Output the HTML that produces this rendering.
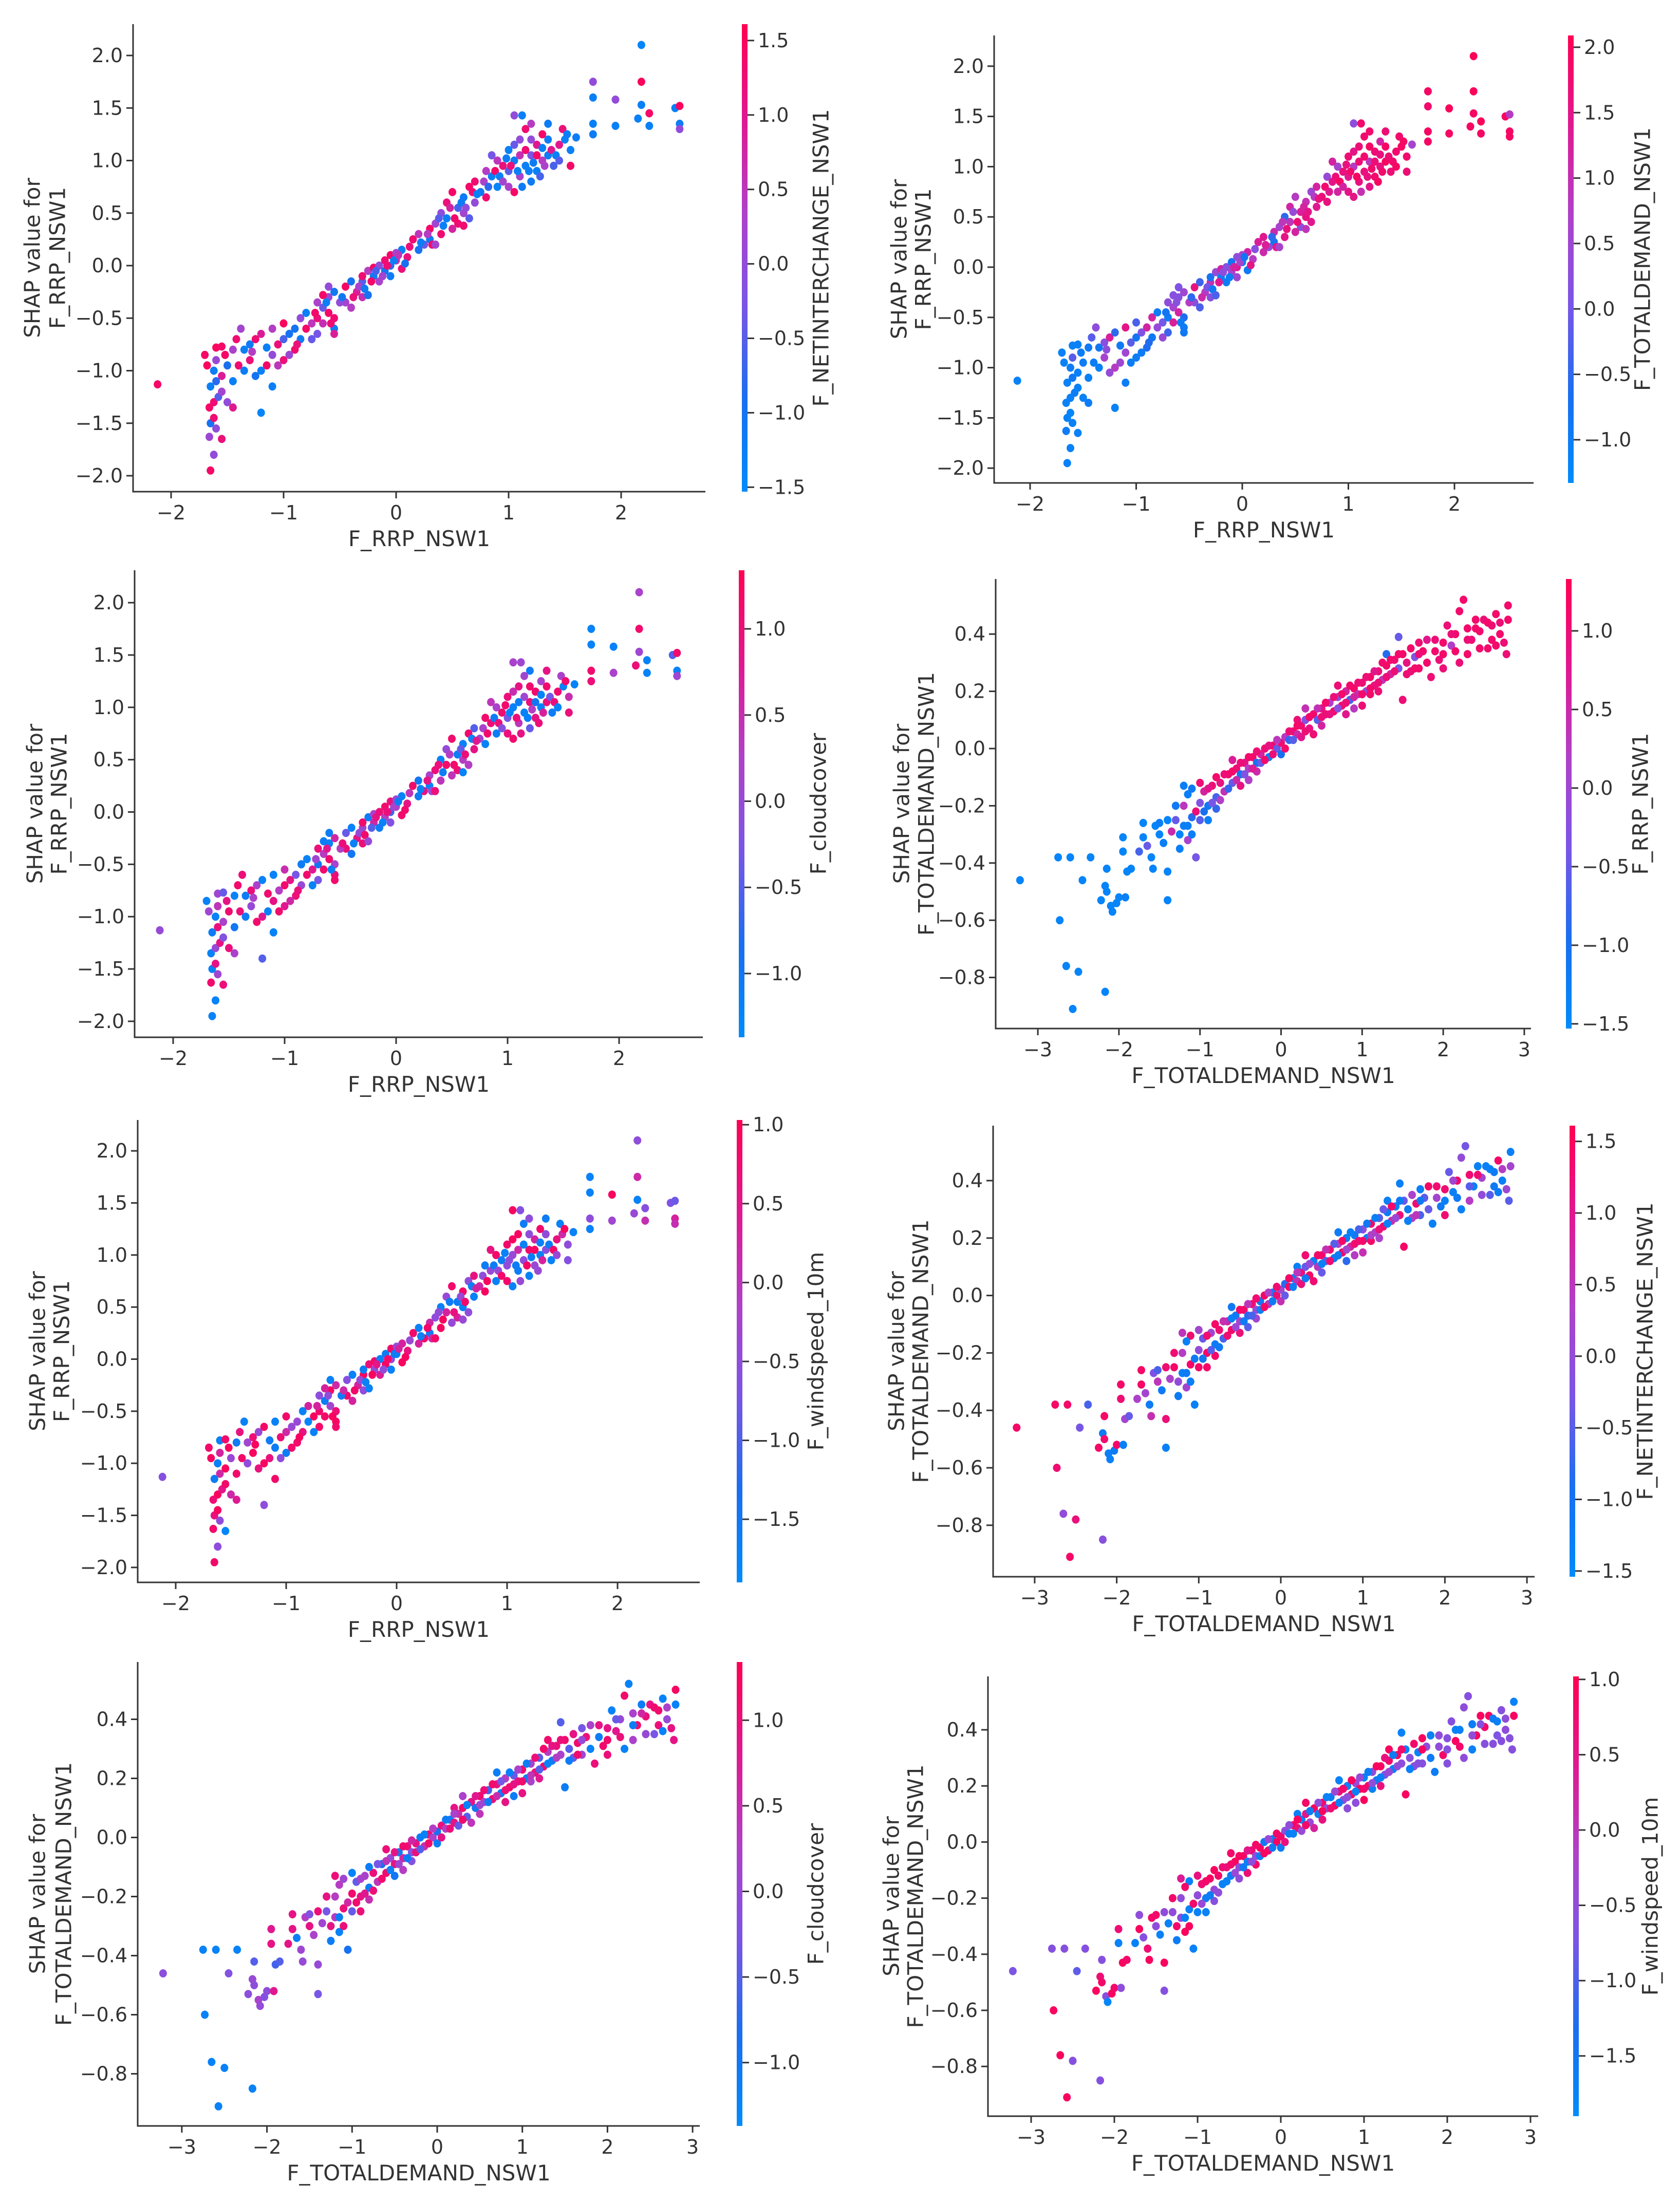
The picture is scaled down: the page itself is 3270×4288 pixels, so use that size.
<!DOCTYPE html>
<html><head><meta charset="utf-8"><style>
html,body{margin:0;padding:0;background:#fff}
svg{display:block}
text{font-family:"DejaVu Sans","Liberation Sans",sans-serif;fill:#333}
</style></head><body>
<svg id="fig" xmlns="http://www.w3.org/2000/svg" width="3270" height="4288" viewBox="0 0 3270 4288">
<defs>
<linearGradient id="cmap" x1="0" y1="1" x2="0" y2="0">
<stop offset="0" stop-color="#008bfb"/><stop offset="0.2" stop-color="#1a6ef0"/><stop offset="0.4" stop-color="#7a55e6"/><stop offset="0.6" stop-color="#b040c8"/><stop offset="0.8" stop-color="#e01890"/><stop offset="1" stop-color="#ff0052"/>
</linearGradient>
</defs>
</svg>
<script>
// RRP feature values and SHAP values
const rrpPoints = [
[-2.12,-1.13],[-1.65,-1.95],[-1.62,-1.8],[-1.66,-1.63],[-1.55,-1.65],[-1.65,-1.5],[-1.62,-1.45],[-1.6,-1.55],[-1.66,-1.35],[-1.62,-1.3],
[-1.58,-1.25],[-1.55,-1.2],[-1.65,-1.15],[-1.6,-1.1],[-1.55,-1.05],[-1.62,-1.0],[-1.68,-0.95],[-1.7,-0.85],[-1.6,-0.9],[-1.5,-0.95],
[-1.45,-1.1],[-1.5,-1.3],[-1.45,-1.35],[-1.52,-0.85],[-1.45,-0.8],[-1.6,-0.78],[-1.55,-0.77],[-1.42,-0.7],[-1.38,-0.6],[-1.35,-0.8],
[-1.3,-0.9],[-1.3,-0.75],[-1.25,-0.7],[-1.2,-0.65],[-1.25,-1.05],[-1.2,-1.0],[-1.2,-1.4],[-1.1,-1.15],[-1.1,-0.85],[-1.05,-0.75],
[-1.0,-0.7],[-1.1,-0.6],[-1.0,-0.55],[-0.95,-0.65],[-0.9,-0.8],[-0.85,-0.5],[-0.85,-0.7],[-0.8,-0.6],[-0.8,-0.45],[-0.75,-0.55],
[-0.7,-0.35],[-0.7,-0.5],[-0.65,-0.4],[-0.6,-0.3],[-0.6,-0.45],[-0.55,-0.6],[-0.55,-0.5],[-0.55,-0.65],[-0.6,-0.2],[-0.55,-0.25],
[-0.45,-0.2],[-0.45,-0.35],[-0.4,-0.15],[-0.35,-0.25],[-0.3,-0.15],[-0.3,-0.1],[-0.25,-0.05],[-0.2,-0.1],[-0.2,-0.02],[-0.15,0.0],
[-0.15,-0.15],[-0.1,-0.05],[-0.1,0.05],[-0.05,0.0],[-0.05,0.1],[0.0,0.05],[0.05,0.15],[0.05,-0.03],[0.0,0.12],[0.15,0.25],
[0.2,0.3],[0.25,0.2],[0.3,0.35],[0.3,0.25],[0.35,0.4],[0.4,0.3],[0.4,0.5],[0.45,0.45],[0.45,0.6],[0.5,0.7],
[0.55,0.55],[0.55,0.4],[0.6,0.5],[0.6,0.65],[0.65,0.75],[0.7,0.6],[0.7,0.8],[0.75,0.7],[0.8,0.9],[0.8,0.65],
[0.85,0.85],[0.9,0.75],[0.9,1.0],[0.95,0.95],[1.0,0.9],[1.0,1.1],[1.05,0.7],[1.05,1.0],[1.1,1.2],[1.1,0.85],
[1.15,0.95],[1.15,1.3],[1.2,1.05],[1.2,0.8],[1.25,1.15],[1.25,0.9],[1.3,1.0],[1.3,1.25],[1.35,1.05],[1.4,0.95],
[1.45,1.15],[1.5,1.2],[1.55,1.1],[1.55,0.95],[1.6,1.22],[1.05,1.43],[1.12,1.43],[1.75,1.75],[1.75,1.6],[1.75,1.35],
[1.75,1.25],[1.95,1.58],[1.95,1.33],[2.15,1.4],[2.18,2.1],[2.18,1.75],[2.18,1.53],[2.25,1.33],[2.25,1.45],[2.48,1.5],
[2.52,1.52],[2.52,1.35],[2.52,1.3],[-0.3,-0.3],[-0.7,-0.65],[-1.0,-0.9],[0.2,0.15],[0.5,0.35],[1.0,0.75],[-0.05,-0.1],
[0.1,0.08],[-0.4,-0.4],[0.65,0.45],
[-1.4,-0.95],[-1.35,-1.0],[-1.28,-0.82],[-1.15,-0.78],[-1.15,-0.95],[-0.95,-0.85],[-0.9,-0.6],[-0.88,-0.75],[-0.75,-0.7],[-0.72,-0.45],
[-0.65,-0.55],[-0.62,-0.35],[-0.58,-0.55],[-0.5,-0.35],[-0.48,-0.3],[-0.38,-0.3],[-0.33,-0.2],[-0.28,-0.22],[-0.22,-0.15],[-0.18,-0.05],
[-0.12,-0.1],[-0.08,0.0],[-0.02,0.05],[0.02,0.1],[0.08,0.02],[0.12,0.18],[0.22,0.22],[0.28,0.3],[0.32,0.2],[0.38,0.45],
[0.42,0.38],[0.48,0.55],[0.52,0.45],[0.58,0.6],[0.62,0.55],[0.68,0.7],[0.72,0.68],[0.78,0.8],[0.82,0.75],[0.88,0.9],
[0.92,0.85],[0.95,0.8],[0.98,1.02],[1.02,0.95],[1.05,1.15],[1.08,0.9],[1.1,1.05],[1.12,0.75],[1.15,1.1],[1.18,0.9],
[1.2,1.2],[1.22,0.98],[1.25,1.05],[1.28,0.85],[1.3,1.12],[1.32,0.95],[1.35,1.2],[1.38,1.1],[1.42,1.05],[1.45,1.0],
[1.48,1.3],[1.52,1.25],[1.2,1.35],[1.35,1.35],[0.85,1.05],[0.6,0.38],[0.35,0.2],[-0.25,-0.28],[-0.65,-0.28],[-1.05,-0.95]
];
// TOTALDEMAND feature values and SHAP values
const tdPoints = [
[-3.22,-0.46],[-2.75,-0.38],[-2.6,-0.38],[-2.35,-0.38],[-2.45,-0.46],[-2.73,-0.6],[-2.65,-0.76],[-2.5,-0.78],[-2.17,-0.85],[-2.57,-0.91],
[-2.15,-0.42],[-2.17,-0.48],[-2.15,-0.5],[-2.22,-0.53],[-2.1,-0.55],[-2.08,-0.57],[-2.03,-0.54],[-2.0,-0.52],[-1.92,-0.52],[-1.4,-0.53],
[-1.95,-0.36],[-1.95,-0.31],[-1.9,-0.43],[-1.85,-0.42],[-1.75,-0.36],[-1.7,-0.26],[-1.65,-0.34],[-1.6,-0.38],[-1.58,-0.42],[-1.55,-0.27],
[-1.5,-0.3],[-1.45,-0.33],[-1.4,-0.43],[-1.35,-0.29],[-1.3,-0.25],[-1.25,-0.3],[-1.2,-0.27],[-1.15,-0.32],[-1.1,-0.24],[-1.05,-0.38],
[-1.05,-0.22],[-1.1,-0.14],[-1.0,-0.19],[-0.95,-0.15],[-0.9,-0.2],[-0.85,-0.13],[-0.8,-0.17],[-0.75,-0.12],[-0.7,-0.15],[-0.65,-0.09],
[-0.6,-0.12],[-0.55,-0.07],[-0.5,-0.09],[-0.45,-0.05],[-0.4,-0.07],[-0.35,-0.03],[-0.3,-0.05],[-0.25,-0.02],[-0.2,0.0],[-0.15,-0.03],
[-0.1,0.01],[-0.05,0.0],[0.0,0.02],[0.05,0.04],[0.1,0.03],[0.15,0.06],[0.2,0.05],[0.25,0.08],[0.3,0.1],[0.35,0.07],
[0.4,0.12],[0.45,0.1],[0.5,0.14],[0.55,0.12],[0.6,0.16],[0.65,0.13],[0.7,0.18],[0.75,0.15],[0.8,0.2],[0.85,0.17],
[0.9,0.21],[0.95,0.19],[1.0,0.23],[1.05,0.2],[1.1,0.25],[1.15,0.22],[1.2,0.27],[1.25,0.24],[1.3,0.29],[1.35,0.26],
[1.4,0.31],[1.45,0.28],[1.5,0.33],[1.5,0.17],[1.55,0.3],[1.6,0.35],[1.65,0.32],[1.7,0.37],[1.75,0.34],[1.8,0.38],
[1.85,0.25],[1.9,0.34],[1.95,0.31],[2.0,0.37],[2.05,0.43],[2.1,0.36],[2.15,0.4],[2.2,0.48],[2.2,0.3],[2.25,0.52],
[2.3,0.42],[2.35,0.38],[2.4,0.45],[2.45,0.41],[2.5,0.45],[2.55,0.35],[2.6,0.43],[2.65,0.47],[2.7,0.4],[2.75,0.37],
[2.8,0.5],[2.8,0.45],[2.78,0.33],[2.3,0.33],[2.0,0.28],[1.45,0.39],[1.0,0.15],[0.5,0.08],[-0.5,-0.13],[-1.15,-0.16],
[-1.2,-0.13],[0.3,0.14],[0.7,0.22],[1.2,0.2],[1.7,0.28],[2.6,0.38],[-0.8,-0.21],[-0.3,-0.08],[0.2,0.1],[0.9,0.14],
[2.45,0.35],[-0.6,-0.04],[0.0,-0.02],[0.4,0.05],[0.8,0.12],[1.1,0.19],[1.3,0.33],[1.6,0.27],[-0.9,-0.25],[-0.4,-0.11],
[-1.3,-0.2],[-1.25,-0.35],[-1.2,-0.2],[-1.1,-0.3],[-1.0,-0.25],[-1.0,-0.12],[-0.95,-0.22],[-0.9,-0.14],[-0.85,-0.19],[-0.8,-0.1],
[-0.75,-0.18],[-0.7,-0.09],[-0.65,-0.14],[-0.6,-0.08],[-0.55,-0.11],[-0.5,-0.05],[-0.45,-0.09],[-0.4,-0.03],[-0.35,-0.07],[-0.3,-0.01],
[-0.25,-0.05],[-0.2,-0.04],[-0.15,0.01],[-0.1,-0.02],[-0.05,0.03],[0.05,0.0],[0.1,0.06],[0.15,0.03],[0.2,0.08],[0.25,0.04],
[0.3,0.06],[0.35,0.11],[0.45,0.14],[0.5,0.11],[0.55,0.16],[0.6,0.12],[0.65,0.18],[0.7,0.14],[0.75,0.19],[0.8,0.16],
[0.85,0.22],[0.9,0.18],[0.95,0.23],[1.0,0.19],[1.05,0.25],[1.1,0.21],[1.15,0.27],[1.2,0.23],[1.25,0.3],[1.3,0.25],
[1.35,0.31],[1.4,0.27],[1.45,0.33],[1.55,0.26],[1.65,0.28],[1.7,0.33],[1.8,0.3],[1.9,0.38],[2.0,0.33],[2.1,0.4],
[2.15,0.34],[2.3,0.38],[2.4,0.42],[2.55,0.44],[2.7,0.44],[2.65,0.36],[-1.7,-0.31],[-1.5,-0.26],[-1.4,-0.25],[-1.15,-0.27]
];
// interaction feature values (colour) per panel
const colNetRrp = [1.4,1.4,0.0,0.1,1.2,-1.0,1.3,0.0,1.4,1.3,-0.5,0.2,-1.3,-0.8,0.9,-1.2,1.5,1.4,0.1,-0.9,-1.3,0.0,1.0,1.4,0.3,1.5,1.4,1.3,0.2,-1.3,1.2,-1.2,1.3,0.9,-1.0,-1.3,-1.4,-1.3,0.0,1.2,-0.6,0.4,1.5,-1.0,1.3,0.0,-1.2,1.4,-1.3,0.5,0.3,1.2,-0.4,0.1,1.4,-1.2,1.3,0.9,0.0,-1.1,1.4,0.2,-1.0,0.9,-0.5,1.3,0.4,-1.2,1.4,0.0,0.3,-1.0,1.3,-0.8,1.4,0.6,-1.3,1.2,0.2,1.3,0.5,-0.4,1.4,-1.2,0.2,1.3,0.0,-1.3,1.2,1.4,-0.6,1.3,0.2,-1.2,1.4,0.0,1.3,-1.1,0.4,1.3,-1.3,-1.4,0.5,1.2,-0.5,-1.3,1.4,-1.2,0.0,0.3,-1.3,1.3,-0.3,-1.2,1.0,-1.3,0.4,1.4,-1.2,-0.6,1.0,-1.3,-1.3,1.4,-1.2,0.0,-1.3,0.0,-1.3,-1.3,-1.2,0.0,-1.3,-1.3,-1.4,1.5,-1.3,-1.3,1.4,-1.3,1.5,-1.2,0.0,0.6,-0.3,1.2,-1.0,0.8,0.3,-1.2,1.2,0.4,-0.5,
1.3,-1.2,0.4,-1.3,1.4,0.1,-1.0,1.2,-0.4,1.4,0.6,-1.3,1.3,0.0,-1.1,1.2,0.3,-1.2,1.4,-0.6,0.2,1.3,-1.3,0.5,-0.9,1.2,-1.2,0.4,1.3,-0.5,-1.3,0.8,1.4,-1.2,0.0,1.3,-1.3,0.3,-0.8,1.4,-1.3,0.2,-1.2,1.2,-0.4,-1.3,0.6,-1.2,1.3,-1.3,0.0,-1.2,1.4,-0.6,-1.3,0.3,-1.2,1.0,-1.3,-0.5,1.2,-1.3,0.4,-1.2,-0.3,1.3,0.2,-1.0,1.4,0.5];
const colTdRrp = [-1.1,-1.1,-1.1,-1.0,-1.1,-1.1,-1.2,-1.1,-1.1,-1.1,-1.0,-1.1,-1.1,-0.9,-1.1,-1.0,-1.1,-1.1,-0.2,-1.0,-1.1,-1.1,-1.0,-1.0,-0.9,-1.1,-1.1,-0.2,0.3,-0.8,0.6,0.2,1.3,-0.5,0.4,0.8,-1.1,-1.0,0.5,-0.2,-0.8,1.5,-0.3,0.1,-0.6,1.2,-0.9,0.4,-1.0,0.0,0.3,-1.0,0.6,0.2,1.2,-1.0,-0.6,-0.9,0.1,0.5,1.6,0.2,-0.4,0.8,1.0,-0.8,0.4,-1.0,1.2,0.2,-1.0,0.6,-0.8,1.4,0.3,-1.0,1.2,-0.9,0.5,1.3,1.4,0.4,1.1,-0.8,0.6,1.5,-0.5,0.9,1.2,0.8,1.3,0.2,1.6,1.0,0.5,1.4,1.2,1.7,0.4,1.6,1.5,1.2,0.6,1.6,1.4,1.7,1.5,0.8,1.7,1.6,1.6,1.8,0.9,1.5,1.7,1.8,1.6,1.2,1.9,1.7,1.8,1.9,1.8,1.7,0.6,0.3,1.8,1.9,1.8,1.9,1.9,2.0,1.9,1.9,2.0,2.0,1.9,1.9,2.0,1.9,0.8,1.9,1.9,0.2,-0.4,-1.0,1.1,1.2,1.5,0.5,0.8,-0.3,1.4,
-1.0,-1.1,0.3,-0.9,0.5,-1.0,1.2,-0.6,0.4,-0.8,1.3,0.2,-1.0,0.8,-0.5,1.1,0.0,-0.9,1.4,0.3,-1.0,1.2,0.6,-0.8,1.5,0.2,1.3,-0.5,1.4,0.9,1.6,0.4,1.7,1.2,1.5,0.8,1.6,1.8,1.4,1.7,1.9,1.2,1.6,1.8,1.5,1.9,1.7,1.0,1.8,1.6,1.9,1.8,1.7,1.9,1.6,1.8,1.9,1.7,1.8,1.9,1.8,1.9,1.8,1.7,1.2,0.9,0.6,-0.3,0.2,-1.0];
const colCloudRrp = [0.0,-1.2,-1.2,1.1,1.0,-1.2,0.9,0.1,-1.2,0.0,0.9,-0.2,-1.1,1.0,0.2,-1.2,0.1,-1.2,0.4,1.1,-1.0,1.0,0.2,0.9,-1.2,0.1,-0.4,1.1,1.0,-1.1,0.0,1.0,0.2,-1.2,1.1,0.8,-0.5,-1.2,0.9,0.3,1.1,-1.2,0.5,0.9,1.0,-1.1,0.0,1.1,-1.2,0.8,1.0,-1.0,0.3,-1.2,1.1,1.0,0.2,1.1,-1.1,0.6,-0.4,1.0,-1.2,0.9,0.1,1.1,-1.1,0.6,0.2,1.0,-1.1,0.3,1.1,-0.6,1.0,0.2,-1.2,1.1,0.0,1.1,-1.0,0.9,0.2,-1.2,1.0,0.4,-1.2,1.1,0.0,1.1,-1.1,1.0,0.3,-1.2,1.1,0.9,-0.5,0.1,1.1,-1.2,1.0,-1.1,0.2,1.1,-0.3,1.0,1.1,-1.2,0.9,0.4,-1.2,0.1,1.0,-0.4,1.1,0.9,-1.2,0.2,1.0,-1.1,1.1,-1.2,0.5,1.0,-1.2,0.2,0.1,-1.2,-1.2,1.1,1.0,-1.2,0.2,1.0,0.2,1.1,0.1,-1.2,-1.2,-0.5,1.1,-1.2,0.1,1.0,-0.3,0.8,-1.1,0.4,1.0,-0.2,0.9,-1.0,0.3,
1.0,-1.1,0.2,1.1,-1.2,0.6,-0.3,1.0,-1.2,0.1,1.1,0.8,-1.1,0.3,1.0,-1.2,0.0,1.1,-0.5,0.9,-1.2,1.0,0.2,-1.1,1.1,0.4,-1.2,0.9,0.1,1.0,-1.1,0.3,1.1,-0.4,1.0,-1.2,0.8,0.2,1.1,-1.1,1.0,-0.2,1.1,-1.2,0.5,1.0,-1.1,0.9,0.1,-1.2,1.1,0.3,-1.0,1.0,-1.2,0.7,1.1,-0.3,1.0,-1.2,0.2,1.1,-1.1,0.9,0.4,-1.2,1.0,0.0,-1.1,1.1];
const colWindRrp = [-0.6,0.8,-0.5,0.8,-1.8,0.6,0.9,-0.5,0.7,0.9,0.5,0.8,-1.6,0.2,0.9,-1.7,0.9,0.8,0.3,-0.4,0.8,0.2,0.4,0.9,-1.6,-1.7,0.8,0.6,-1.7,-0.3,0.9,0.7,-0.4,0.8,0.6,0.9,-0.5,0.8,-1.6,0.7,0.2,-1.7,0.8,-0.4,0.8,-1.7,0.6,-1.8,0.3,0.9,-0.5,0.8,-1.6,0.9,-0.3,0.9,0.7,0.8,-1.7,0.2,-0.6,0.8,-1.7,0.3,0.9,-1.6,0.7,-0.5,0.8,-1.7,0.4,0.9,-1.6,-0.4,0.8,-1.7,0.3,0.9,-0.5,0.8,-1.7,0.8,0.2,-1.6,-0.5,0.9,-1.7,0.3,-0.4,0.8,-1.6,0.3,-1.7,0.8,-0.5,-1.7,0.6,0.2,-1.6,0.9,-0.4,-1.7,0.8,-1.6,-0.5,0.8,-1.7,-0.4,0.9,-1.6,-0.5,-1.6,0.8,-1.7,0.3,-0.4,-1.7,0.8,-0.6,-1.7,0.6,0.2,-0.5,-0.6,-1.7,0.9,-0.6,-1.7,-1.7,-0.5,-1.7,0.9,-0.3,-0.4,-0.5,0.2,-1.7,0.1,-0.6,-0.7,-0.8,0.3,0.1,-0.5,0.8,-1.6,0.3,-0.4,0.8,-1.7,0.6,0.3,-0.5,
0.8,-0.5,0.9,-1.6,0.6,0.8,-0.4,0.9,-1.7,0.3,0.8,-0.5,0.9,-1.6,0.2,0.8,-0.4,-1.7,0.9,0.5,-0.5,0.8,-1.6,0.3,0.9,-0.4,-1.7,0.8,0.2,-0.5,0.9,-1.6,0.6,-0.4,0.8,-1.7,0.3,-0.5,0.9,-1.6,-0.4,0.8,-1.7,-0.5,0.9,-1.6,0.2,-0.4,-1.7,0.8,-0.5,-1.6,0.9,-0.4,-1.7,0.3,-0.5,-1.6,0.8,-0.4,-1.7,0.9,-0.5,-1.6,0.6,-0.4,0.8,-1.7,0.3,-0.5];
const colRrpTd = [-1.4,-1.4,-1.4,-1.4,-1.4,-1.4,-1.4,-1.4,-1.4,-1.4,-1.4,-1.4,-1.4,-1.4,-1.4,-1.4,-1.4,-1.4,-1.3,-1.4,-1.4,-1.4,-1.4,-1.4,-0.7,-1.4,-0.5,-1.4,-1.4,-1.4,-1.4,-1.3,-1.4,0.5,-0.5,-1.4,-1.3,0.1,-0.9,-0.4,1.0,-1.2,-0.3,0.6,-1.2,1.0,-0.7,0.9,0.4,1.1,-0.5,1.0,-1.1,0.8,0.2,1.1,-1.0,0.6,1.0,-1.3,1.1,-0.5,1.0,0.3,-0.8,1.1,0.5,1.0,-0.3,0.9,1.1,-0.6,0.9,1.0,0.2,1.1,-0.2,1.0,0.6,-0.7,1.1,0.4,1.0,-0.2,1.1,0.9,1.0,0.3,1.1,0.6,1.0,-0.4,1.1,1.0,0.9,1.1,-0.3,1.0,1.1,0.8,1.0,1.1,1.0,1.1,1.0,0.2,1.1,1.1,1.0,1.1,1.1,1.0,1.1,1.1,1.0,1.1,1.0,1.1,1.1,1.0,1.1,1.1,1.0,1.1,1.0,-0.5,1.0,0.6,0.9,-1.3,-1.3,0.4,1.0,1.0,1.1,1.1,-0.8,0.5,1.0,0.3,1.1,0.7,-1.0,1.0,0.8,1.1,-0.9,1.0,-1.3,0.2,
-1.2,-1.3,0.3,-1.3,-0.6,1.0,-1.0,0.8,-0.4,1.1,0.2,1.0,-0.8,1.1,0.5,1.0,-0.3,1.1,0.7,1.0,-0.5,1.1,0.9,1.0,0.3,1.1,1.0,-0.6,1.1,0.8,1.0,1.1,0.4,1.0,1.1,0.9,1.0,-0.2,1.1,1.0,1.1,0.6,1.0,1.1,1.0,1.1,0.8,1.0,1.1,1.0,1.1,1.0,1.1,1.0,1.1,1.0,1.1,1.0,1.1,1.0,1.1,1.0,1.1,1.1,1.0,1.1,-1.4,-1.3,-1.4,-1.3];
const colNetTd = [1.4,1.4,1.4,-0.6,-0.3,1.3,0.0,1.2,-0.1,1.4,1.4,-1.2,1.3,1.4,-1.3,-1.3,-1.2,1.4,-1.3,-1.3,1.3,1.4,0.2,-0.4,0.3,1.4,0.2,-1.2,0.6,-0.2,0.5,-1.2,1.2,0.3,1.4,0.0,-1.3,0.2,1.4,-1.3,-1.2,1.3,0.0,-0.4,1.4,0.2,-1.2,1.3,-0.6,0.8,1.4,-1.2,0.3,1.4,-0.8,1.3,0.1,-1.1,1.4,0.5,-1.2,1.3,0.2,-0.8,1.4,-1.3,0.6,1.2,-0.4,1.4,-1.3,0.5,1.4,-0.6,1.3,-1.2,0.3,1.4,-1.3,0.8,-1.2,1.3,0.0,-1.3,1.4,0.4,-0.5,1.3,-1.2,0.6,-1.3,1.2,-0.4,1.4,-1.2,0.3,1.3,-1.3,-0.5,1.4,-1.3,0.2,-1.2,1.3,-0.4,-1.3,1.4,0.0,-1.3,-0.3,1.3,-1.3,-1.3,0.2,-1.3,-0.5,-1.2,1.4,-1.3,0.1,-1.3,0.2,-0.5,0.4,1.3,-1.3,0.6,-0.4,1.2,-1.3,0.5,1.3,-1.2,0.3,-0.6,-1.2,1.4,0.2,-1.3,0.4,0.0,-1.2,0.6,1.3,-0.8,1.4,-1.3,0.3,1.4,-0.5,
1.3,-1.2,0.4,-1.3,1.4,0.2,-1.1,1.3,-0.5,1.4,-1.2,0.6,1.3,-1.3,0.1,1.4,-1.2,0.5,-0.6,1.3,-1.3,1.4,0.3,-1.2,1.3,-0.4,1.4,-1.3,0.5,1.2,-1.2,0.0,1.4,-1.3,0.6,1.3,-0.5,-1.2,1.4,0.2,-1.3,1.3,-0.6,1.4,-1.2,0.3,-1.3,1.2,-0.4,-1.3,1.4,0.1,-1.2,-1.3,0.5,-1.2,-0.4,1.3,-1.3,0.2,-1.2,-0.5,1.3,-1.3,0.4,-1.2,1.4,-0.6,1.3,-1.2];
const colCloudTd = [-0.1,-1.2,-1.2,-1.2,-0.2,-1.2,-1.2,-1.2,-1.2,-1.2,-0.5,0.0,-0.1,-0.1,0.2,0.0,-0.2,-0.1,0.8,-0.3,0.9,0.8,-0.6,-0.5,0.9,0.9,-1.1,0.1,0.0,0.3,0.9,0.2,0.0,0.1,-0.3,0.9,0.3,-1.2,1.0,-0.9,0.6,0.1,1.1,-0.4,0.9,0.2,-1.1,1.0,0.4,-0.8,1.1,0.0,0.9,-1.1,0.6,1.0,-0.2,0.9,-1.1,0.5,1.1,0.2,-0.9,1.0,0.3,-1.1,0.9,0.5,1.1,-0.5,0.9,-1.0,1.1,0.2,-0.6,1.0,0.9,-1.1,0.3,1.1,-0.4,0.9,1.1,-1.1,0.2,1.0,-0.5,1.1,0.3,-1.1,1.0,0.2,1.1,-1.1,-0.5,0.9,1.1,-0.3,1.0,0.2,1.0,-1.1,1.1,0.9,-1.2,0.8,0.0,1.1,-1.2,-1.2,0.2,1.1,-1.1,1.0,0.9,-0.3,1.1,-1.2,0.0,0.9,1.2,-1.2,0.9,0.2,1.0,-0.5,0.9,0.4,-1.0,0.3,1.0,0.2,-1.1,0.8,0.1,1.0,0.5,-0.2,0.9,-1.1,0.0,1.0,-1.1,0.4,0.9,0.2,1.1,-0.4,1.0,0.3,
0.9,-1.1,0.3,1.0,-0.4,-1.2,1.1,0.2,0.8,-1.1,1.0,-0.3,1.1,0.4,-1.2,0.9,0.1,1.1,-1.1,0.6,1.0,-0.5,-1.2,1.1,0.3,0.9,-1.1,1.0,0.2,-0.4,1.1,-1.2,0.8,0.1,1.0,-1.1,1.1,0.5,-0.3,1.0,-1.2,0.9,0.2,1.1,-1.1,0.4,1.0,-0.5,1.1,-1.2,0.9,0.3,1.0,-1.1,1.1,0.0,-1.2,0.9,1.1,-0.4,1.0,-1.1,0.6,1.1,0.2,-1.2,0.9,-0.2,1.0,-1.1];
const colWindTd = [-0.7,-0.6,-0.6,-0.6,-0.9,0.9,0.9,-0.6,-0.6,0.9,-0.6,0.7,0.8,0.9,-0.6,-1.8,0.9,0.8,-0.5,-0.6,-1.7,0.7,0.9,0.8,-1.7,-0.5,-0.6,0.7,0.9,0.8,-0.5,-1.7,0.9,-1.7,-0.5,0.8,-0.6,0.9,-1.7,-1.7,0.8,-1.7,-0.5,0.7,-1.6,0.9,-0.4,0.8,-1.7,0.6,-1.6,0.9,-0.5,0.8,-1.7,0.7,-0.5,0.9,-1.6,0.8,-1.7,0.9,0.8,-0.5,-1.6,0.9,0.7,-1.7,0.5,-0.4,0.9,-1.7,0.8,-0.5,-1.6,0.9,0.7,-0.5,-1.7,0.8,-0.4,0.9,-1.7,0.8,-0.5,-1.6,0.9,-0.6,0.8,-1.7,0.9,-0.5,-1.7,0.9,-0.6,0.8,-1.7,0.9,-0.5,-1.7,-1.6,-0.5,0.8,-0.6,-0.6,0.9,-1.7,-0.5,-0.5,-0.6,-1.6,0.9,0.9,0.8,0.9,-0.6,-1.7,-0.6,-0.5,-0.6,-1.7,0.9,-0.6,-1.7,-0.6,-1.7,0.9,0.6,-0.5,0.8,0.4,0.8,-1.7,0.6,-0.6,-0.7,-0.6,0.8,-1.7,-0.5,-0.6,0.8,-1.6,0.3,-0.5,-1.7,0.9,-0.6,-1.7,0.7,
0.8,-1.6,-0.5,0.9,-1.7,0.6,-0.4,0.8,-1.6,0.9,-0.5,0.7,-1.7,0.8,-0.4,0.9,-1.6,0.5,-0.5,0.8,-1.7,0.9,-0.4,-1.6,0.8,0.6,-0.5,-1.7,0.9,-0.4,0.8,-1.6,-0.5,0.9,-1.7,0.7,-0.4,-1.6,0.8,-0.5,0.9,-1.7,-0.4,0.8,-1.6,-0.5,0.9,-1.7,0.6,-0.4,-1.6,-0.5,0.8,-1.7,-0.6,0.9,-1.6,-0.5,-0.6,-1.7,0.8,-0.5,-0.6,-1.6,-0.5,-0.6,0.9,0.8,-0.5,-1.7];
// axis tick labels
const rrpXTicks = [-2,-1,0,1,2];
const rrpYTicks = [-2.0,-1.5,-1.0,-0.5,0.0,0.5,1.0,1.5,2.0];
const tdXTicks = [-3,-2,-1,0,1,2,3];
const tdYTicks = [-0.8,-0.6,-0.4,-0.2,0.0,0.2,0.4];
const cbTicksA = [-1.5,-1.0,-0.5,0.0,0.5,1.0,1.5];
const cbTicksB = [-1.0,-0.5,0.0,0.5,1.0,1.5,2.0];
const cbTicksC = [-1.0,-0.5,0.0,0.5,1.0];
const cbTicksD = [-1.5,-1.0,-0.5,0.0,0.5,1.0];

const panels = [
 {id:'rrp-netinterchange',pts:rrpPoints,col:colNetRrp,xt:rrpXTicks,yt:rrpYTicks,axL:259,axR:1373,axT:47,axB:957,x0:771,xs:219,y0:517,ys:204.5,cbx:1444,cbLo:-1.53,cbHi:1.61,cbt:cbTicksA,yl1:63,yl2:112,cbl:1598,xl:'F_RRP_NSW1',yl:'F_RRP_NSW1',cl:'F_NETINTERCHANGE_NSW1'},
 {id:'rrp-totaldemand',pts:rrpPoints,col:colTdRrp,xt:rrpXTicks,yt:rrpYTicks,axL:1935,axR:2985,axT:69,axB:940,x0:2418,xs:206.5,y0:520,ys:195.6,cbx:3052,cbLo:-1.33,cbHi:2.09,cbt:cbTicksB,yl1:1750,yl2:1797,cbl:3197,xl:'F_RRP_NSW1',yl:'F_RRP_NSW1',cl:'F_TOTALDEMAND_NSW1'},
 {id:'rrp-cloudcover',pts:rrpPoints,col:colCloudRrp,xt:rrpXTicks,yt:rrpYTicks,axL:262,axR:1368,axT:1110,axB:2019,x0:771,xs:217,y0:1580.5,ys:203.7,cbx:1438,cbLo:-1.37,cbHi:1.34,cbt:cbTicksC,yl1:68,yl2:115,cbl:1593,xl:'F_RRP_NSW1',yl:'F_RRP_NSW1',cl:'F_cloudcover'},
 {id:'totaldemand-rrp',pts:tdPoints,col:colRrpTd,xt:tdXTicks,yt:tdYTicks,axL:1938,axR:2980,axT:1127,axB:2002,x0:2493.5,xs:157.8,y0:1457,ys:557,cbx:3048,cbLo:-1.53,cbHi:1.33,cbt:cbTicksD,yl1:1755,yl2:1803,cbl:3193,xl:'F_TOTALDEMAND_NSW1',yl:'F_TOTALDEMAND_NSW1',cl:'F_RRP_NSW1'},
 {id:'rrp-windspeed',pts:rrpPoints,col:colWindRrp,xt:rrpXTicks,yt:rrpYTicks,axL:268,axR:1362,axT:2180,axB:3080,x0:772,xs:215,y0:2645.5,ys:202.7,cbx:1434,cbLo:-1.90,cbHi:1.03,cbt:cbTicksD,yl1:73,yl2:120,cbl:1588,xl:'F_RRP_NSW1',yl:'F_RRP_NSW1',cl:'F_windspeed_10m'},
 {id:'totaldemand-netinterchange',pts:tdPoints,col:colNetTd,xt:tdXTicks,yt:tdYTicks,axL:1933,axR:2987,axT:2191,axB:3069,x0:2493,xs:159.7,y0:2521.6,ys:559,cbx:3055,cbLo:-1.54,cbHi:1.61,cbt:cbTicksA,yl1:1745,yl2:1792,cbl:3202,xl:'F_TOTALDEMAND_NSW1',yl:'F_TOTALDEMAND_NSW1',cl:'F_NETINTERCHANGE_NSW1'},
 {id:'totaldemand-cloudcover',pts:tdPoints,col:colCloudTd,xt:tdXTicks,yt:tdYTicks,axL:268,axR:1362,axT:3235,axB:4138,x0:851,xs:165.7,y0:3576.5,ys:575,cbx:1434,cbLo:-1.37,cbHi:1.34,cbt:cbTicksC,yl1:73,yl2:124,cbl:1588,xl:'F_TOTALDEMAND_NSW1',yl:'F_TOTALDEMAND_NSW1',cl:'F_cloudcover'},
 {id:'totaldemand-windspeed',pts:tdPoints,col:colWindTd,xt:tdXTicks,yt:tdYTicks,axL:1923,axR:2994,axT:3263,axB:4119,x0:2493,xs:162,y0:3585.4,ys:546,cbx:3062,cbLo:-1.90,cbHi:1.02,cbt:cbTicksD,yl1:1735,yl2:1782,cbl:3212,xl:'F_TOTALDEMAND_NSW1',yl:'F_TOTALDEMAND_NSW1',cl:'F_windspeed_10m'}
];

const stops = [[0,[0,139,251]],[0.2,[26,110,240]],[0.4,[122,85,230]],[0.6,[176,64,200]],[0.8,[224,24,144]],[1,[255,0,82]]];
function cmap(t){
  t=Math.max(0,Math.min(1,t));
  for(let i=1;i<stops.length;i++){
    if(t<=stops[i][0]){
      const a=stops[i-1],b=stops[i],f=(t-a[0])/(b[0]-a[0]);
      const c=a[1].map((v,k)=>Math.round(v+(b[1][k]-v)*f));
      return 'rgb('+c.join(',')+')';
    }
  }
  return 'rgb(255,0,82)';
}
const NS='http://www.w3.org/2000/svg';
const svg=document.getElementById('fig');
function mk(tag,attrs,parent){
  const e=document.createElementNS(NS,tag);
  for(const k in attrs) e.setAttribute(k,attrs[k]);
  parent.appendChild(e); return e;
}
function fmt(v,dec){const s=Math.abs(v).toFixed(dec);return (v<0?'\u2212':'')+s;}

panels.forEach(p=>{
  const g=mk('g',{},svg);
  
  
  const X=v=>p.x0+v*p.xs, Y=v=>p.y0-v*p.ys;
  const pg=mk('g',{},g);
  
  
  p.pts.forEach((d,i)=>{
    const cv=p.col[i%p.col.length];
    const c=mk('ellipse',{cx:X(d[0]).toFixed(1),cy:Y(d[1]).toFixed(1),rx:7.5,ry:8,fill:cmap((cv-p.cbLo)/(p.cbHi-p.cbLo))},pg);
    
    
  });
  const ax=mk('path',{d:`M${p.axL},${p.axT}V${p.axB}H${p.axR}`,fill:'none',stroke:'#333',"stroke-width":3},g);
  
  
  p.xt.forEach(v=>{
    const x=X(v);
    mk('line',{x1:x,y1:p.axB,x2:x,y2:p.axB+13,stroke:'#333','stroke-width':3},g);
    const t=mk('text',{x:x,y:p.axB+54,'text-anchor':'middle','font-size':38},g);
    t.textContent=fmt(v,0);
    
    
  });
  p.yt.forEach(v=>{
    const y=Y(v);
    mk('line',{x1:p.axL-13,y1:y,x2:p.axL,y2:y,stroke:'#333','stroke-width':3},g);
    const t=mk('text',{x:p.axL-20,y:y+13,'text-anchor':'end','font-size':38},g);
    t.textContent=fmt(v,1);
    
    
  });
  const xl=mk('text',{x:(p.axL+p.axR)/2,y:p.axB+106,'text-anchor':'middle','font-size':42},g);
  xl.textContent=p.xl;
  
  
  const cy=(p.axT+p.axB)/2;
  const y1=mk('text',{x:p.yl1,y:cy,'text-anchor':'middle','font-size':42,'dominant-baseline':'central',transform:`rotate(-90 ${p.yl1} ${cy})`},g);
  y1.textContent='SHAP value for';
  
  
  const y2=mk('text',{x:p.yl2,y:cy,'text-anchor':'middle','font-size':42,'dominant-baseline':'central',transform:`rotate(-90 ${p.yl2} ${cy})`},g);
  y2.textContent=p.yl;
  
  
  const cb=mk('rect',{x:p.cbx,y:p.axT,width:11,height:p.axB-p.axT,fill:'url(#cmap)'},g);
  
  
  const CY=v=>p.axB-(v-p.cbLo)/(p.cbHi-p.cbLo)*(p.axB-p.axT);
  p.cbt.forEach(v=>{
    const y=CY(v);
    mk('line',{x1:p.cbx+11,y1:y,x2:p.cbx+24,y2:y,stroke:'#333','stroke-width':3},g);
    const t=mk('text',{x:p.cbx+31,y:y+13,'font-size':38},g);
    t.textContent=fmt(v,1);
    
    
  });
  const cl=mk('text',{x:p.cbl,y:cy,'text-anchor':'middle','font-size':42,'dominant-baseline':'central',transform:`rotate(-90 ${p.cbl} ${cy})`},g);
  cl.textContent=p.cl;
  
  
});
</script>
</body></html>
